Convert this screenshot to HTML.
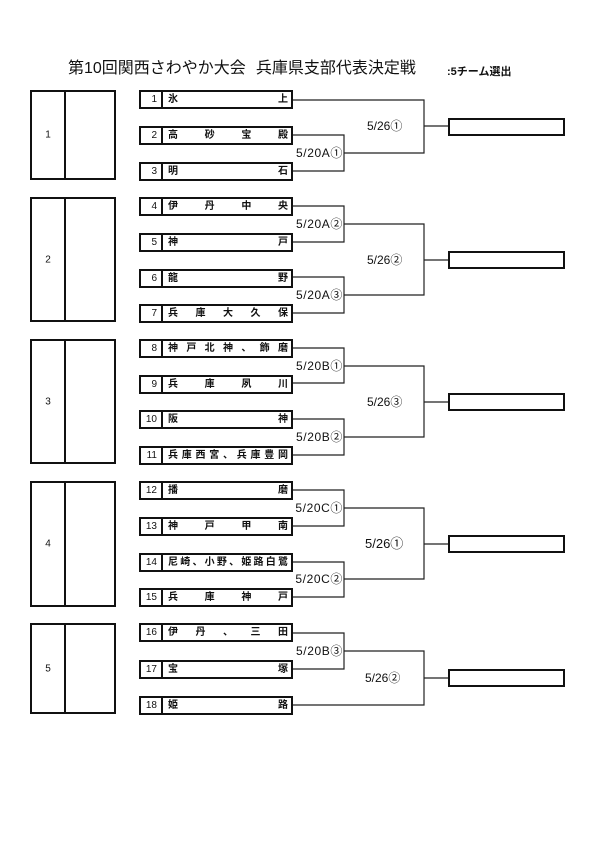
<!DOCTYPE html>
<html><head><meta charset="utf-8">
<style>
html,body{margin:0;padding:0;background:#fff;}
body{width:600px;height:852px;position:relative;overflow:hidden;font-family:"Liberation Sans","Noto Sans CJK JP",sans-serif;color:#111;}
.abs{position:absolute;}
.title{left:68px;top:60px;font-size:16px;line-height:18px;white-space:nowrap;letter-spacing:0px;}
.sub{left:447px;top:66px;font-size:11px;line-height:12px;font-weight:bold;white-space:nowrap;}
.grp{position:absolute;left:30px;width:86px;border:2px solid #111;box-sizing:border-box;}
.grp .div{position:absolute;left:32px;top:0;bottom:0;border-left:2px solid #111;}
.grp .num{position:absolute;left:0;width:32px;top:50%;transform:translateY(-50%);text-align:center;font-size:10px;}
.team{position:absolute;left:139px;width:154px;height:19px;border:2px solid #111;box-sizing:border-box;}
.team .n{position:absolute;left:0;top:0;width:22px;height:15px;border-right:2px solid #111;text-align:right;font-size:10px;line-height:15px;box-sizing:border-box;padding-right:4px;}
.team .nm{position:absolute;left:27px;right:3px;top:0;height:15px;display:flex;justify-content:space-between;font-size:10px;line-height:15px;font-weight:bold;}
.res{position:absolute;left:448px;width:117px;height:18px;border:2px solid #111;box-sizing:border-box;}
.lb{position:absolute;font-size:12px;line-height:14px;white-space:nowrap;transform:translateY(-50%);}
.lr{right:257px;letter-spacing:0.6px;}
.ll{left:367px;}
svg{position:absolute;left:0;top:0;}
</style></head><body>
<div class="abs title">第10回関西さわやか大会<span style="display:inline-block;width:10px"></span>兵庫県支部代表決定戦</div>
<div class="abs sub">:5チーム選出</div>

<svg width="600" height="852">
<g fill="none" stroke="#222" stroke-width="1.2">
<path d="M293,100 H424 V153 H344"/>
<path d="M293,135 H344 V171 H293"/>
<path d="M424,126 H448"/>

<path d="M293,206 H344 V242 H293"/>
<path d="M344,224 H424 V295 H344"/>
<path d="M293,277 H344 V313 H293"/>
<path d="M424,260 H448"/>

<path d="M293,348 H344 V383 H293"/>
<path d="M344,366 H424 V437 H344"/>
<path d="M293,419 H344 V455 H293"/>
<path d="M424,402 H448"/>

<path d="M293,490 H344 V526 H293"/>
<path d="M344,508 H424 V579 H344"/>
<path d="M293,562 H344 V597 H293"/>
<path d="M424,544 H448"/>

<path d="M293,633 H344 V669 H293"/>
<path d="M344,651 H424 V705 H293"/>
<path d="M424,678 H448"/>
</g>
</svg>

<div class="grp" style="top:90px;height:90px"><div class="div"></div><div class="num">1</div></div>
<div class="grp" style="top:197px;height:125px"><div class="div"></div><div class="num">2</div></div>
<div class="grp" style="top:339px;height:125px"><div class="div"></div><div class="num">3</div></div>
<div class="grp" style="top:481px;height:126px"><div class="div"></div><div class="num">4</div></div>
<div class="grp" style="top:623px;height:91px"><div class="div"></div><div class="num">5</div></div>

<div class="team" style="top:90px"><div class="n">1</div><div class="nm"><span>氷</span><span>上</span></div></div>
<div class="team" style="top:126px"><div class="n">2</div><div class="nm"><span>高</span><span>砂</span><span>宝</span><span>殿</span></div></div>
<div class="team" style="top:162px"><div class="n">3</div><div class="nm"><span>明</span><span>石</span></div></div>
<div class="team" style="top:197px"><div class="n">4</div><div class="nm"><span>伊</span><span>丹</span><span>中</span><span>央</span></div></div>
<div class="team" style="top:233px"><div class="n">5</div><div class="nm"><span>神</span><span>戸</span></div></div>
<div class="team" style="top:269px"><div class="n">6</div><div class="nm"><span>龍</span><span>野</span></div></div>
<div class="team" style="top:304px"><div class="n">7</div><div class="nm"><span>兵</span><span>庫</span><span>大</span><span>久</span><span>保</span></div></div>
<div class="team" style="top:339px"><div class="n">8</div><div class="nm"><span>神</span><span>戸</span><span>北</span><span>神</span><span>、</span><span>飾</span><span>磨</span></div></div>
<div class="team" style="top:375px"><div class="n">9</div><div class="nm"><span>兵</span><span>庫</span><span>夙</span><span>川</span></div></div>
<div class="team" style="top:410px"><div class="n">10</div><div class="nm"><span>阪</span><span>神</span></div></div>
<div class="team" style="top:446px"><div class="n">11</div><div class="nm"><span>兵</span><span>庫</span><span>西</span><span>宮</span><span>、</span><span>兵</span><span>庫</span><span>豊</span><span>岡</span></div></div>
<div class="team" style="top:481px"><div class="n">12</div><div class="nm"><span>播</span><span>磨</span></div></div>
<div class="team" style="top:517px"><div class="n">13</div><div class="nm"><span>神</span><span>戸</span><span>甲</span><span>南</span></div></div>
<div class="team" style="top:553px"><div class="n">14</div><div class="nm"><span>尼</span><span>崎</span><span>、</span><span>小</span><span>野</span><span>、</span><span>姫</span><span>路</span><span>白</span><span>鷺</span></div></div>
<div class="team" style="top:588px"><div class="n">15</div><div class="nm"><span>兵</span><span>庫</span><span>神</span><span>戸</span></div></div>
<div class="team" style="top:623px"><div class="n">16</div><div class="nm"><span>伊</span><span>丹</span><span>、</span><span>三</span><span>田</span></div></div>
<div class="team" style="top:660px"><div class="n">17</div><div class="nm"><span>宝</span><span>塚</span></div></div>
<div class="team" style="top:696px"><div class="n">18</div><div class="nm"><span>姫</span><span>路</span></div></div>

<div class="res" style="top:118px"></div>
<div class="res" style="top:251px"></div>
<div class="res" style="top:393px"></div>
<div class="res" style="top:535px"></div>
<div class="res" style="top:669px"></div>

<div class="lb ll" style="top:126px">5/26①</div>
<div class="lb lr" style="top:153px">5/20A①</div>
<div class="lb lr" style="top:224px">5/20A②</div>
<div class="lb ll" style="top:260px">5/26②</div>
<div class="lb lr" style="top:295px">5/20A③</div>
<div class="lb lr" style="top:366px">5/20B①</div>
<div class="lb ll" style="top:402px">5/26③</div>
<div class="lb lr" style="top:437px">5/20B②</div>
<div class="lb lr" style="top:508px">5/20C①</div>
<div class="lb ll" style="top:544px;left:365px;font-size:13px">5/26①</div>
<div class="lb lr" style="top:579px">5/20C②</div>
<div class="lb lr" style="top:651px">5/20B③</div>
<div class="lb ll" style="top:678px;left:365px">5/26②</div>
</body></html>
